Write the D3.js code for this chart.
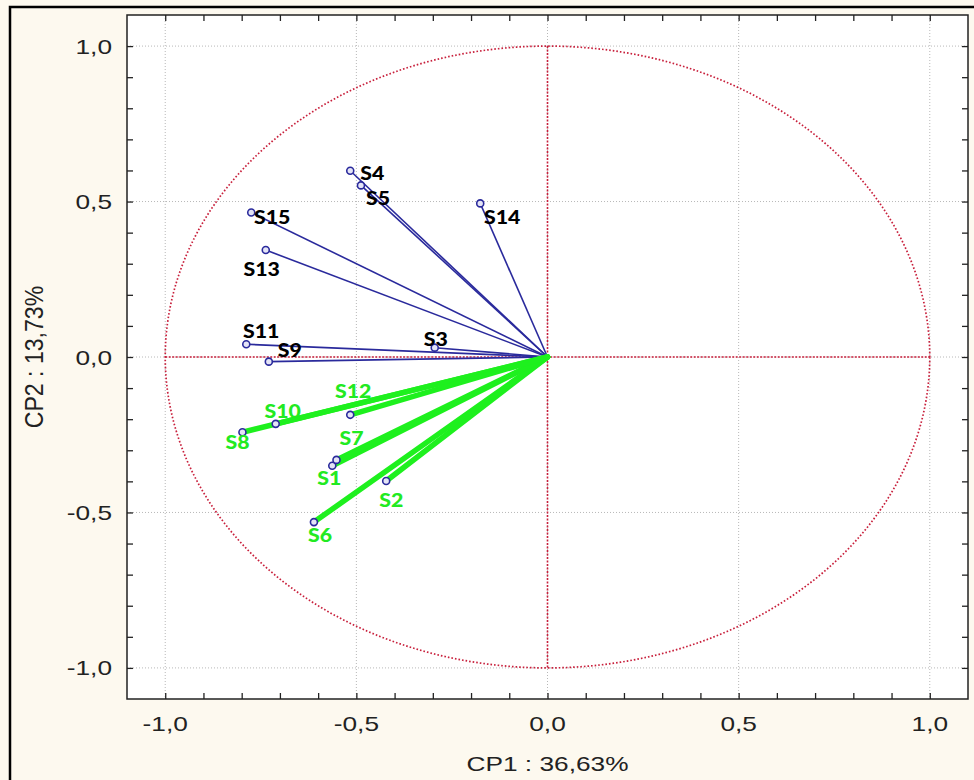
<!DOCTYPE html>
<html>
<head>
<meta charset="utf-8">
<script src="https://cdn.jsdelivr.net/npm/d3@7"></script>
<style>
  body { margin: 0; background: #fdf9ef; }
  svg { display: block; }
</style>
</head>
<body>
<svg id="chart" width="974" height="780"></svg>
<script>
// loadings on the first two components
const varNames = ["S1", "S2", "S3", "S4", "S5", "S6", "S7", "S8", "S9", "S10", "S11", "S12", "S13", "S14", "S15"];
const cp1 = [-0.563, -0.422, -0.295, -0.516, -0.488, -0.611, -0.552, -0.798, -0.729, -0.711, -0.788, -0.516, -0.737, -0.176, -0.775];
const cp2 = [-0.350, -0.399, 0.030, 0.599, 0.552, -0.531, -0.331, -0.242, -0.015, -0.215, 0.041, -0.186, 0.344, 0.494, 0.465];
const highlighted = ["S1", "S2", "S6", "S7", "S8", "S10", "S12"];
const gridValues = [-1, -0.5, 0, 0.5, 1];
const xTitle = "CP1  : 36,63%";
const yTitle = "CP2 : 13,73%";

const svg = d3.select("#chart");

// the original picture is stretched sideways, so text gets a horizontal scale too
const stretch = 1.25;

const pLeft = 127, pRight = 968, pTop = 15, pBottom = 699;

const x = d3.scaleLinear().domain([-1.1, 1.1]).range([pLeft, pRight]);
const y = d3.scaleLinear().domain([-1.1, 1.1]).range([pBottom, pTop]);

const locale = d3.formatLocale({decimal: ",", thousands: ".", grouping: [3], currency: ["", ""], minus: "-"});
const fmt = locale.format(".1f");

// outer frame of the figure
svg.append("rect")
    .attr("x", 10).attr("y", 7)
    .attr("width", 1000).attr("height", 800)
    .attr("fill", "#fdf9ef")
    .attr("stroke", "#000")
    .attr("stroke-width", 2.5);

// plot area
svg.append("rect")
    .attr("x", pLeft).attr("y", pTop)
    .attr("width", pRight - pLeft).attr("height", pBottom - pTop)
    .attr("fill", "#fff");

svg.append("clipPath").attr("id", "plotclip")
    .append("rect")
    .attr("x", pLeft).attr("y", pTop)
    .attr("width", pRight - pLeft).attr("height", pBottom - pTop);

const plot = svg.append("g").attr("clip-path", "url(#plotclip)");

// grey dotted grid
plot.selectAll(".gx")
    .data(gridValues)
    .enter()
    .append("line")
    .attr("x1", (d) => x(d)).attr("x2", (d) => x(d))
    .attr("y1", pTop).attr("y2", pBottom)
    .attr("stroke", "#b8b8b8")
    .attr("stroke-width", 1)
    .attr("stroke-dasharray", "1,2");

plot.selectAll(".gy")
    .data(gridValues)
    .enter()
    .append("line")
    .attr("y1", (d) => y(d)).attr("y2", (d) => y(d))
    .attr("x1", pLeft).attr("x2", pRight)
    .attr("stroke", "#b8b8b8")
    .attr("stroke-width", 1)
    .attr("stroke-dasharray", "1,2");

// red unit circle and zero lines
const circle = d3.line()
    .x((a) => x(Math.cos(a)))
    .y((a) => y(Math.sin(a)));

plot.append("path")
    .datum(d3.range(0, 361).map((d) => d * Math.PI / 180))
    .attr("d", circle)
    .attr("fill", "none")
    .attr("stroke", "#c8203c")
    .attr("stroke-width", 1.7)
    .attr("stroke-dasharray", "1.6,2");

plot.append("line")
    .attr("x1", x(0)).attr("x2", x(0))
    .attr("y1", y(1)).attr("y2", y(-1))
    .attr("stroke", "#c8203c")
    .attr("stroke-width", 1.6)
    .attr("stroke-dasharray", "2,1.5");

plot.append("line")
    .attr("x1", x(-1)).attr("x2", x(1))
    .attr("y1", y(0)).attr("y2", y(0))
    .attr("stroke", "#c8203c")
    .attr("stroke-width", 1.6)
    .attr("stroke-dasharray", "2,1.5");

const points = varNames.map((name, i) => ({name: name, cx: cp1[i], cy: cp2[i], hl: highlighted.includes(name)}));

// blue vectors
plot.selectAll(".vec")
    .data(points)
    .enter()
    .append("line")
    .attr("x1", x(0)).attr("y1", y(0))
    .attr("x2", (d) => x(d.cx))
    .attr("y2", (d) => y(d.cy))
    .attr("stroke", "#2a2a9c")
    .attr("stroke-width", 1.6);

// green highlight over the second group
plot.selectAll(".hl")
    .data(points.filter((d) => d.hl))
    .enter()
    .append("line")
    .attr("x1", x(0)).attr("y1", y(0))
    .attr("x2", (d) => x(d.cx))
    .attr("y2", (d) => y(d.cy))
    .attr("stroke", "#1ef01e")
    .attr("stroke-width", 5.5)
    .attr("stroke-linecap", "round");

// markers
plot.selectAll(".mark")
    .data(points)
    .enter()
    .append("circle")
    .attr("cx", (d) => x(d.cx))
    .attr("cy", (d) => y(d.cy))
    .attr("r", 3.5)
    .attr("fill", "#e4e4f6")
    .attr("stroke", "#2a2a9c")
    .attr("stroke-width", 1.6);

// label offsets in pixels from each marker
const labelOffset = {
    S1: [-3, 12], S2: [5, 18], S3: [1, -9], S4: [22, 2], S5: [17, 12],
    S6: [6, 12], S7: [15, -22], S8: [-5, 9], S9: [21, -12], S10: [7, -13],
    S11: [15, -14], S12: [3, -24], S13: [-4, 18], S14: [22, 13], S15: [21, 4]
};

plot.selectAll(".lab")
    .data(points)
    .enter()
    .append("text")
    .attr("transform", (d) => `translate(${x(d.cx) + labelOffset[d.name][0]}, ${y(d.cy) + labelOffset[d.name][1]}) scale(1.12, 1)`)
    .attr("text-anchor", "middle")
    .attr("dominant-baseline", "central")
    .attr("font-family", "Lato, 'Open Sans', sans-serif")
    .attr("font-weight", "900")
    .attr("font-size", 19)
    .attr("fill", (d) => d.hl ? "#22ea22" : "#000")
    .text((d) => d.name);

// frame with inward ticks on all four sides
const minor = d3.range(-10, 11).map((d) => d / 10);

svg.append("g")
    .attr("transform", `translate(${pLeft},0)`)
    .call(d3.axisRight(y).tickValues(minor).tickSize(6).tickFormat(""));
svg.append("g")
    .attr("transform", `translate(${pRight},0)`)
    .call(d3.axisLeft(y).tickValues(minor).tickSize(6).tickFormat(""));
svg.append("g")
    .attr("transform", `translate(0,${pTop})`)
    .call(d3.axisBottom(x).tickValues(minor).tickSize(6).tickFormat(""));
svg.append("g")
    .attr("transform", `translate(0,${pBottom})`)
    .call(d3.axisTop(x).tickValues(minor).tickSize(6).tickFormat(""));

svg.selectAll(".domain").remove();
svg.selectAll(".tick line").attr("stroke", "#222").attr("stroke-width", 1.3);

svg.append("rect")
    .attr("x", pLeft).attr("y", pTop)
    .attr("width", pRight - pLeft).attr("height", pBottom - pTop)
    .attr("fill", "none")
    .attr("stroke", "#222")
    .attr("stroke-width", 1.5);

// tick labels
svg.selectAll(".ylab")
    .data(gridValues)
    .enter()
    .append("text")
    .attr("transform", (d) => `translate(112, ${y(d)}) scale(${stretch}, 1)`)
    .attr("text-anchor", "end")
    .attr("dominant-baseline", "central")
    .attr("font-family", "'Liberation Sans', Arial, sans-serif")
    .attr("font-size", 21)
    .attr("fill", "#222")
    .text((d) => fmt(d));

svg.selectAll(".xlab")
    .data(gridValues)
    .enter()
    .append("text")
    .attr("transform", (d) => `translate(${x(d)}, 723) scale(${stretch}, 1)`)
    .attr("text-anchor", "middle")
    .attr("dominant-baseline", "central")
    .attr("font-family", "'Liberation Sans', Arial, sans-serif")
    .attr("font-size", 21)
    .attr("fill", "#222")
    .text((d) => fmt(d));

// axis titles
svg.append("text")
    .attr("transform", `translate(${x(0)}, 763) scale(${stretch}, 1)`)
    .attr("text-anchor", "middle")
    .attr("dominant-baseline", "central")
    .attr("font-family", "'Liberation Sans', Arial, sans-serif")
    .attr("font-size", 21)
    .attr("fill", "#222")
    .text(xTitle);

svg.append("text")
    .attr("transform", `translate(34, ${y(0)}) rotate(-90) scale(1.1, ${stretch})`)
    .attr("text-anchor", "middle")
    .attr("dominant-baseline", "central")
    .attr("font-family", "'Liberation Sans', Arial, sans-serif")
    .attr("font-size", 21)
    .attr("fill", "#222")
    .text(yTitle);
</script>
</body>
</html>
